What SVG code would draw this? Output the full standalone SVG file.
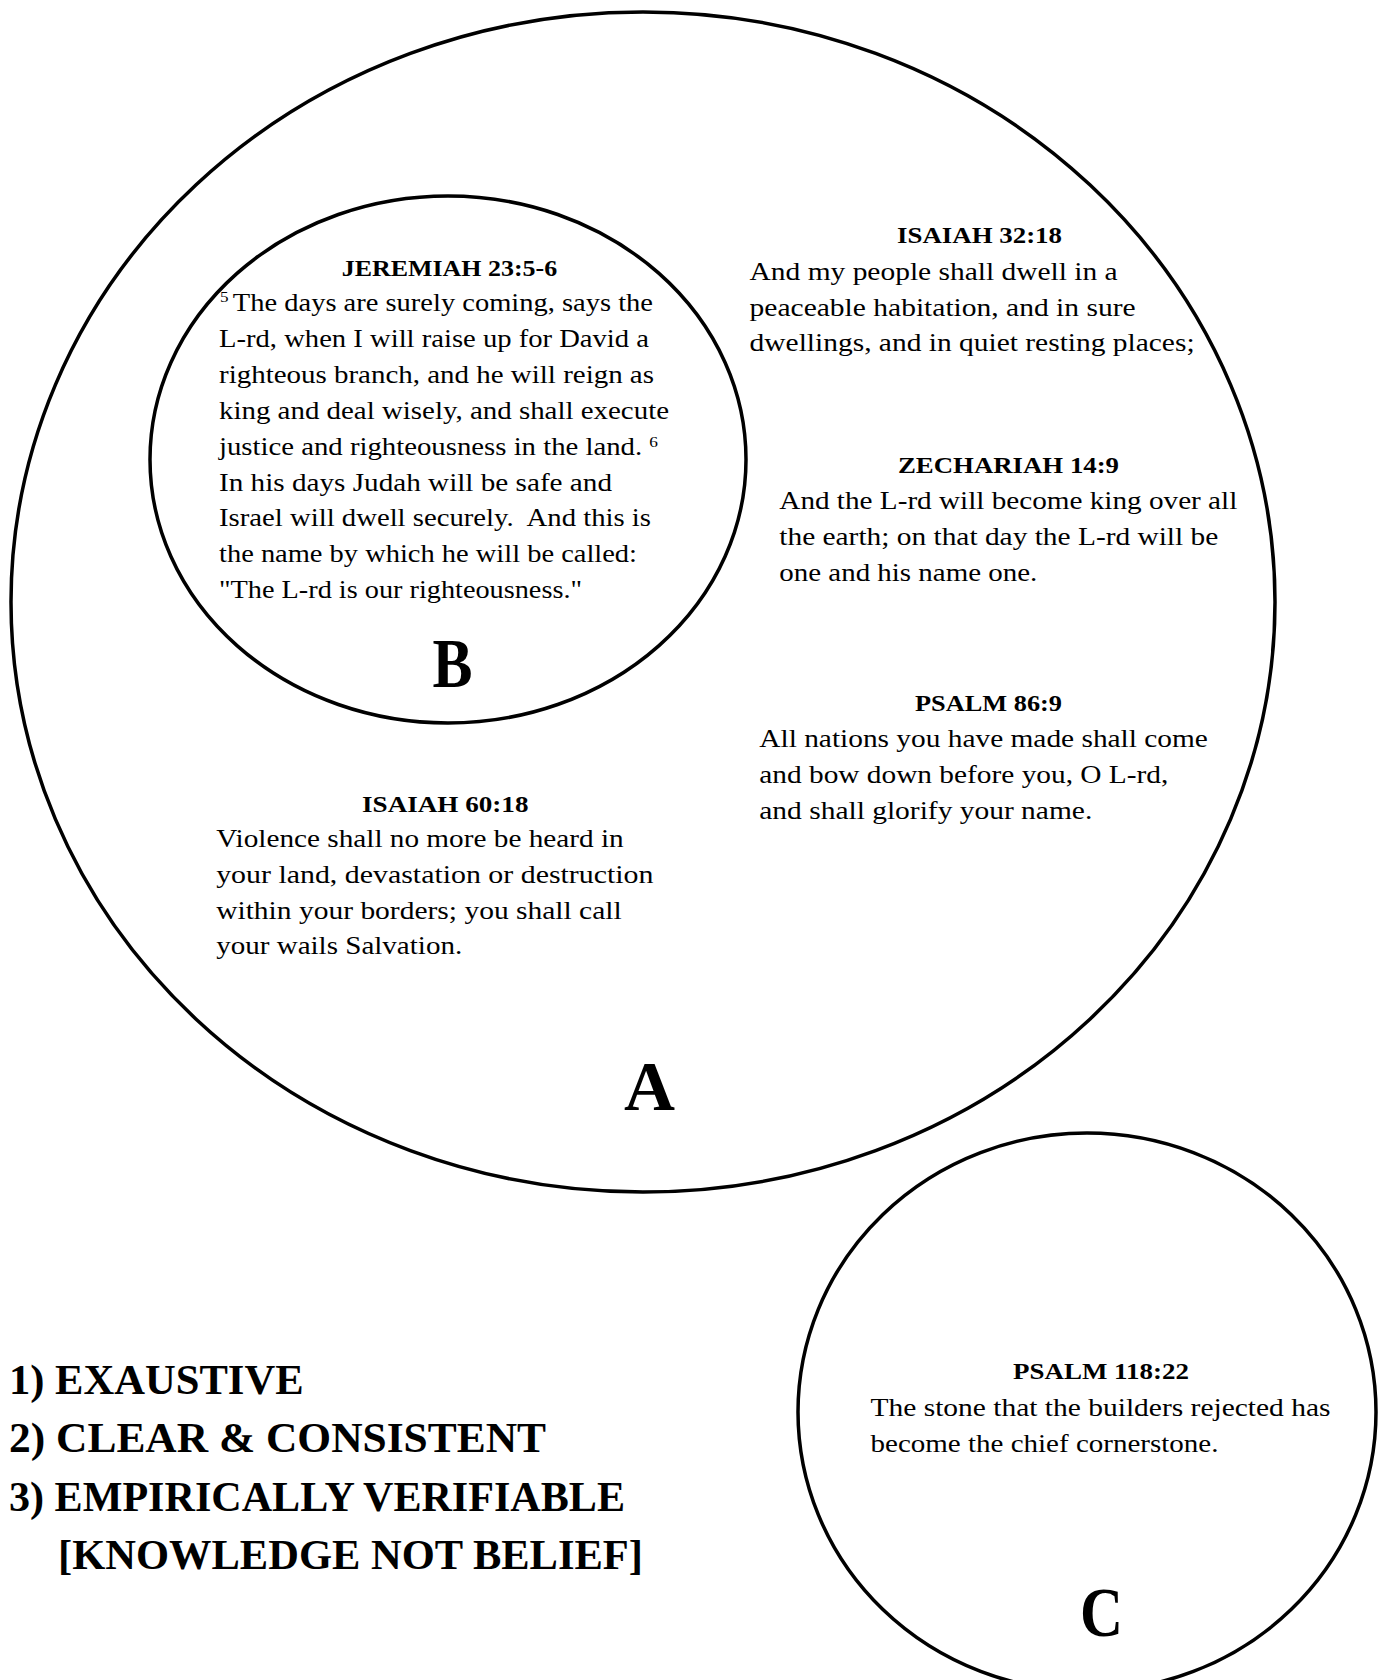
<svg xmlns="http://www.w3.org/2000/svg" width="1400" height="1680" viewBox="0 0 1400 1680">
<style>
.shape{fill:none;stroke:#000;stroke-width:3.5}
text{font-family:"Liberation Serif","Times New Roman",serif;fill:#000}
.body{font-size:25px}
.head{font-size:24px;font-weight:bold}
.big{font-size:70px;font-weight:bold}
.list{font-size:42px;font-weight:bold}
</style>
<rect x="0" y="0" width="1400" height="1680" fill="#fff"/>
<g id="connectors"/>
<g id="nodeA">
<ellipse class="shape" cx="643" cy="602" rx="632" ry="590"/>
<text class="big" x="624" y="1110" textLength="51" lengthAdjust="spacingAndGlyphs">A</text>
</g>
<g id="nodeB">
<ellipse class="shape" cx="448" cy="459.5" rx="298" ry="263.5"/>
<text class="head" x="341.7" y="275.7" textLength="215.5" lengthAdjust="spacingAndGlyphs">JEREMIAH 23:5-6</text>
<text class="body" x="220" y="311" textLength="433" lengthAdjust="spacingAndGlyphs" xml:space="preserve"><tspan font-size="15" dy="-9">5 </tspan><tspan dy="9">The days are surely coming, says the</tspan></text>
<text class="body" x="219" y="346.9" textLength="430" lengthAdjust="spacingAndGlyphs">L-rd, when I will raise up for David a</text>
<text class="body" x="219" y="382.8" textLength="435" lengthAdjust="spacingAndGlyphs">righteous branch, and he will reign as</text>
<text class="body" x="219" y="418.7" textLength="450" lengthAdjust="spacingAndGlyphs">king and deal wisely, and shall execute</text>
<text class="body" x="219" y="454.6" textLength="439" lengthAdjust="spacingAndGlyphs">justice and righteousness in the land. <tspan font-size="15" dy="-8">6</tspan></text>
<text class="body" x="219" y="490.5" textLength="393" lengthAdjust="spacingAndGlyphs">In his days Judah will be safe and</text>
<text class="body" x="219" y="526.4" textLength="432" lengthAdjust="spacingAndGlyphs" xml:space="preserve">Israel will dwell securely.  And this is</text>
<text class="body" x="219" y="562.3" textLength="418" lengthAdjust="spacingAndGlyphs">the name by which he will be called:</text>
<text class="body" x="219" y="598.2" textLength="363" lengthAdjust="spacingAndGlyphs">"The L-rd is our righteousness."</text>
<text class="big" x="432.6" y="687" textLength="40" lengthAdjust="spacingAndGlyphs">B</text>
</g>
<g id="isaiah32">
<text class="head" x="897" y="243" textLength="165" lengthAdjust="spacingAndGlyphs">ISAIAH 32:18</text>
<text class="body" x="749.6" y="279.6" textLength="368" lengthAdjust="spacingAndGlyphs">And my people shall dwell in a</text>
<text class="body" x="749.6" y="315.5" textLength="386" lengthAdjust="spacingAndGlyphs">peaceable habitation, and in sure</text>
<text class="body" x="749.6" y="351.4" textLength="445" lengthAdjust="spacingAndGlyphs">dwellings, and in quiet resting places;</text>
</g>
<g id="zechariah">
<text class="head" x="898" y="472.7" textLength="221" lengthAdjust="spacingAndGlyphs">ZECHARIAH 14:9</text>
<text class="body" x="779.3" y="509" textLength="458" lengthAdjust="spacingAndGlyphs">And the L-rd will become king over all</text>
<text class="body" x="779.3" y="544.9" textLength="439" lengthAdjust="spacingAndGlyphs">the earth; on that day the L-rd will be</text>
<text class="body" x="779.3" y="580.8" textLength="258" lengthAdjust="spacingAndGlyphs">one and his name one.</text>
</g>
<g id="psalm86">
<text class="head" x="915" y="711.4" textLength="147" lengthAdjust="spacingAndGlyphs">PSALM 86:9</text>
<text class="body" x="759.3" y="747" textLength="448.6" lengthAdjust="spacingAndGlyphs">All nations you have made shall come</text>
<text class="body" x="759.3" y="782.9" textLength="409" lengthAdjust="spacingAndGlyphs">and bow down before you, O L-rd,</text>
<text class="body" x="759.3" y="818.8" textLength="333" lengthAdjust="spacingAndGlyphs">and shall glorify your name.</text>
</g>
<g id="isaiah60">
<text class="head" x="362" y="811.8" textLength="166.5" lengthAdjust="spacingAndGlyphs">ISAIAH 60:18</text>
<text class="body" x="216.2" y="846.7" textLength="407.5" lengthAdjust="spacingAndGlyphs">Violence shall no more be heard in</text>
<text class="body" x="216.2" y="882.6" textLength="437.3" lengthAdjust="spacingAndGlyphs">your land, devastation or destruction</text>
<text class="body" x="216.2" y="918.5" textLength="405.5" lengthAdjust="spacingAndGlyphs">within your borders; you shall call</text>
<text class="body" x="216.2" y="954.4" textLength="246" lengthAdjust="spacingAndGlyphs">your wails Salvation.</text>
</g>
<g id="nodeC">
<ellipse class="shape" cx="1087" cy="1412" rx="289" ry="279"/>
<text class="head" x="1013" y="1379" textLength="176" lengthAdjust="spacingAndGlyphs">PSALM 118:22</text>
<text class="body" x="870.5" y="1415.6" textLength="460" lengthAdjust="spacingAndGlyphs">The stone that the builders rejected has</text>
<text class="body" x="870.5" y="1451.5" textLength="348" lengthAdjust="spacingAndGlyphs">become the chief cornerstone.</text>
<text class="big" x="1080" y="1636" textLength="43" lengthAdjust="spacingAndGlyphs">C</text>
</g>
<g id="criteria">
<text class="list" x="9" y="1394" textLength="294.6" lengthAdjust="spacingAndGlyphs">1) EXAUSTIVE</text>
<text class="list" x="9" y="1452" textLength="537" lengthAdjust="spacingAndGlyphs">2) CLEAR &amp; CONSISTENT</text>
<text class="list" x="9" y="1510.6" textLength="616" lengthAdjust="spacingAndGlyphs">3) EMPIRICALLY VERIFIABLE</text>
<text class="list" x="58" y="1569" textLength="585" lengthAdjust="spacingAndGlyphs">[KNOWLEDGE NOT BELIEF]</text>
</g>
</svg>
